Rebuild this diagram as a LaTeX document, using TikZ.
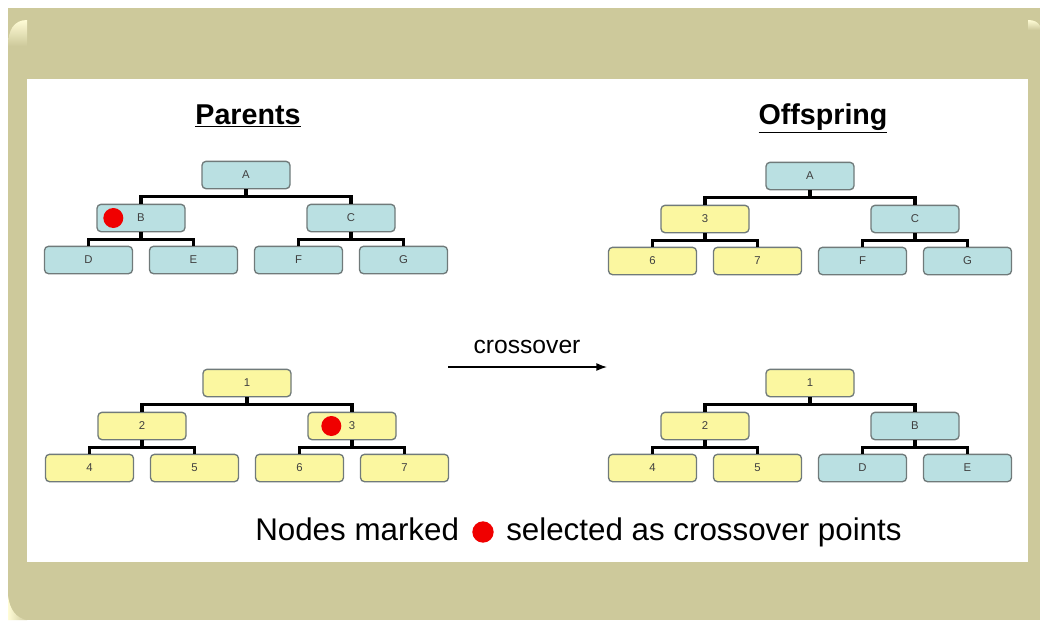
\documentclass[tikz,border=0pt]{standalone}
\usepackage{fontspec}
\setmainfont{Liberation Sans}
\usetikzlibrary{arrows.meta}

\definecolor{framekhaki}{RGB}{205,201,155}
\definecolor{glint}{RGB}{255,252,214}
\definecolor{geneblue}{RGB}{186,224,226}
\definecolor{geneyellow}{RGB}{251,247,160}
\definecolor{geneline}{RGB}{112,122,122}
\definecolor{cutred}{RGB}{240,0,0}

\tikzset{
  gene/.style={draw=geneline, line width=1pt, rounded corners=3pt,
    minimum width=66pt, minimum height=20.5pt, inner sep=0pt,
    font=\fontsize{8.5}{9}\selectfont, text=black!75},
  bluegene/.style={gene, fill=geneblue},
  yellowgene/.style={gene, fill=geneyellow},
  branch/.style={line width=2.6pt, black},
  cutdot/.style={circle, fill=cutred, minimum size=15pt, inner sep=0pt},
  heading/.style={font=\fontsize{21.5}{24}\bfseries, inner sep=0pt, anchor=base},
  notetext/.style={font=\fontsize{23.5}{26}\selectfont, inner sep=0pt, anchor=base west}
}

% one tree: position, name prefix, label/style list
\newcommand{\gatree}[3]{%
  \begin{scope}[shift={#1}]
    \foreach \lab/\sty [count=\i from 0] in {#3} {
      \pgfmathsetmacro{\gx}{{0,-105,105,-157.5,-52.5,52.5,157.5}[\i]}
      \pgfmathsetmacro{\gy}{{0,43,43,85,85,85,85}[\i]}
      \node[\sty] (#2\i) at (\gx,\gy) {\lab};
    }
    \foreach \p/\a/\b in {0/1/2, 1/3/4, 2/5/6} {
      \draw[branch] (#2\p.south) -- ++(0,7) coordinate (#2j\p) -| (#2\a.north);
      \draw[branch] (#2j\p) -| (#2\b.north);
    }
  \end{scope}}

\begin{document}
\begin{tikzpicture}[x=0.75pt, y=-0.75pt]
  \useasboundingbox (0,0) rectangle (1040,626);
  % Frame:
  \fill[white] (0,0) rectangle (1040,626);
  \fill[framekhaki] (8,8) rectangle (1040,620);
  \shade[top color=glint, bottom color=framekhaki] (8,46) .. controls (8,30) and (14,20) .. (27,20) -- (27,46) -- cycle;
  \shade[left color=glint, right color=framekhaki] (8,596) .. controls (10,610) and (16,618) .. (27,620) -- (8,620) -- cycle;
  \shade[top color=glint, bottom color=framekhaki] (1028,20) .. controls (1034,20) and (1038,22) .. (1040,26) -- (1040,30) -- (1028,30) -- cycle;
  \fill[white] (27,79) rectangle (1028,562);

  % Titles:
  \node[heading] (parents) at (248,124) {\underline{Parents}};
  \node[heading] (offspring) at (823,124) {\underline{Offspring}};

  % Trees:
  \gatree{(246,175)}{pa}{A/bluegene, B/bluegene, C/bluegene, D/bluegene, E/bluegene, F/bluegene, G/bluegene}
  \gatree{(247,383)}{pb}{1/yellowgene, 2/yellowgene, 3/yellowgene, 4/yellowgene, 5/yellowgene, 6/yellowgene, 7/yellowgene}
  \gatree{(810,176)}{oa}{A/bluegene, 3/yellowgene, C/bluegene, 6/yellowgene, 7/yellowgene, F/bluegene, G/bluegene}
  \gatree{(810,383)}{ob}{1/yellowgene, 2/yellowgene, B/bluegene, 4/yellowgene, 5/yellowgene, D/bluegene, E/bluegene}

  % Crossover points:
  \node[cutdot] (cutB) at ([xshift=12.75pt]pa1.west) {};
  \node[cutdot] (cut3) at ([xshift=18pt]pb2.west) {};

  % Arrow:
  \coordinate (xfrom) at (448,367);
  \coordinate (xto) at (607,367);
  \draw[line width=1pt, -{Latex[length=8pt, width=6pt]}] (xfrom) -- (xto);
  \node[font=\fontsize{18.5}{20}\selectfont, inner sep=0pt, anchor=base] (xlabel) at (527,353) {crossover};

  % Note:
  \node[notetext] (note1) at (255,540) {Nodes marked};
  \node[cutdot, minimum size=16pt] (notedot) at (483,532) {};
  \node[notetext] (note2) at (506,540) {selected as crossover points};
\end{tikzpicture}
\end{document}
